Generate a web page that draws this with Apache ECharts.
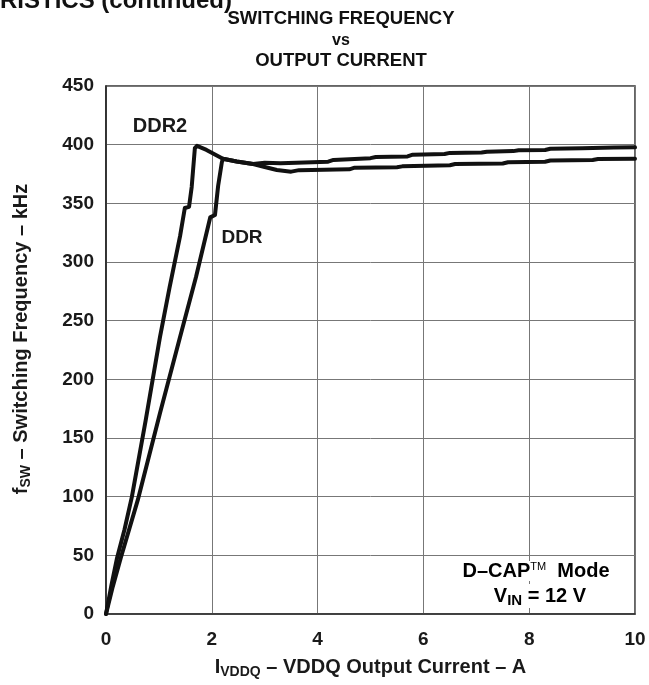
<!DOCTYPE html>
<html>
<head>
<meta charset="utf-8">
<script src="https://cdn.jsdelivr.net/npm/echarts@6/dist/echarts.min.js"></script>
<style>html,body{margin:0;padding:0;background:#fff;}#c{width:649px;height:685px;}</style>
</head>
<body>
<div id="c"></div>
<script>
// ---- data ----
const xTicks = [0, 2, 4, 6, 8, 10];
const yTicks = [0, 50, 100, 150, 200, 250, 300, 350, 400, 450];
const ddr2Current = [0, 0.1, 0.21, 0.35, 0.49, 0.75, 1.02, 1.2, 1.4, 1.49, 1.57, 1.62, 1.68, 1.72, 1.9, 2.21, 2.47, 2.78, 3.0, 3.23, 3.5, 3.65, 4.6, 4.7, 5.5, 5.6, 6.5, 6.6, 7.5, 7.6, 8.3, 8.4, 9.2, 9.3, 10];
const ddr2Freq    = [0, 24, 48, 72, 100, 165, 236, 278, 322, 346, 347, 364, 397, 399, 395.5, 388, 385.6, 383.5, 381, 378.4, 377, 378.3, 379, 380.4, 380.8, 381.5, 382.5, 383.5, 384, 385, 385.5, 386.5, 387, 387.7, 388];
const ddrCurrent  = [0, 0.12, 0.28, 0.6, 1.02, 1.4, 1.7, 1.97, 2.06, 2.12, 2.19, 2.21, 2.47, 2.78, 3.0, 3.3, 4.2, 4.3, 5.0, 5.1, 5.7, 5.8, 6.4, 6.5, 7.1, 7.2, 7.7, 7.8, 8.3, 8.4, 9.0, 9.6, 10];
const ddrFreq     = [0, 22, 48, 97, 171, 236, 287, 338, 340, 365, 385, 388, 385.6, 383.5, 384.5, 384.1, 385.5, 387, 388.5, 389.5, 390, 391.5, 392, 393, 393.3, 394, 394.5, 395.2, 395.5, 396.5, 397, 397.5, 397.7];
const seriesNames = ['DDR2', 'DDR'];
const titleLines = ['SWITCHING FREQUENCY', 'vs', 'OUTPUT CURRENT'];

const pair = (xs, ys) => xs.map((x, i) => [x, ys[i]]);
const FONT = '"Liberation Sans", Arial, sans-serif';
const INK = '#1a1a1a';
const chart = echarts.init(document.getElementById('c'), null, {renderer: 'canvas'});

const nameRich = {
  i: {fontSize: 20, fontWeight: 'bold', color: INK, fontFamily: FONT},
  s: {fontSize: 14, fontWeight: 'bold', color: INK, fontFamily: FONT, padding: [9, 0, 0, 0]},
  n: {fontSize: 20, fontWeight: 'bold', color: INK, fontFamily: FONT}
};

const option = {
  backgroundColor: '#fff',
  animation: false,
  textStyle: {fontFamily: FONT},
  grid: {left: 106, top: 86, right: 14, bottom: 71, show: true, borderColor: '#333', borderWidth: 1.5},
  xAxis: {
    type: 'value', min: xTicks[0], max: xTicks[xTicks.length - 1], interval: xTicks[1] - xTicks[0],
    axisLine: {show: true, lineStyle: {color: '#333', width: 1.5}},
    axisTick: {show: false},
    splitLine: {show: true, lineStyle: {color: '#777', width: 1}},
    axisLabel: {margin: 16, fontSize: 19, fontWeight: 'bold', color: INK, fontFamily: FONT},
    name: '{i|I}{s|VDDQ}{n| – VDDQ Output Current – A}',
    nameLocation: 'middle', nameGap: 42,
    nameTextStyle: {rich: nameRich}
  },
  yAxis: {
    type: 'value', min: yTicks[0], max: yTicks[yTicks.length - 1], interval: yTicks[1] - yTicks[0],
    axisLine: {show: true, lineStyle: {color: '#222', width: 1.5}},
    axisTick: {show: false},
    splitLine: {show: true, lineStyle: {color: '#777', width: 1}},
    axisLabel: {margin: 12, fontSize: 19, fontWeight: 'bold', color: INK, fontFamily: FONT},
    name: '{i|f}{s|SW}{n| – Switching Frequency – kHz}',
    nameLocation: 'middle', nameGap: 73, nameRotate: 90,
    nameTextStyle: {rich: nameRich, padding: [0, 0, 0, 22]}
  },
  series: [
    {name: seriesNames[0], type: 'line', data: pair(ddr2Current, ddr2Freq), showSymbol: false, smooth: false,
     lineStyle: {color: '#111', width: 4, join: 'round', cap: 'round'}, z: 3},
    {name: seriesNames[1], type: 'line', data: pair(ddrCurrent, ddrFreq), showSymbol: false, smooth: false,
     lineStyle: {color: '#111', width: 4, join: 'round', cap: 'round'}, z: 3}
  ],
  graphic: [
    {type: 'text', left: 0, top: -11, style: {text: 'RISTICS (continued)', fontSize: 24, fontWeight: 'bold', fill: '#111', fontFamily: FONT}},
    {type: 'text', x: 341, y: 19, style: {text: titleLines[0], fontSize: 18.5, fontWeight: 'bold', fill: '#111', fontFamily: FONT, align: 'center', verticalAlign: 'middle'}},
    {type: 'text', x: 341, y: 41, style: {text: titleLines[1], fontSize: 16, fontWeight: 'bold', fill: '#111', fontFamily: FONT, align: 'center', verticalAlign: 'middle'}},
    {type: 'text', x: 341, y: 61, style: {text: titleLines[2], fontSize: 18.5, fontWeight: 'bold', fill: '#111', fontFamily: FONT, align: 'center', verticalAlign: 'middle'}},
    {type: 'text', x: 160, y: 126, style: {text: seriesNames[0], fontSize: 20, fontWeight: 'bold', fill: INK, fontFamily: FONT, align: 'center', verticalAlign: 'middle'}, z: 10},
    {type: 'text', x: 242, y: 238, style: {text: seriesNames[1], fontSize: 19, fontWeight: 'bold', fill: INK, fontFamily: FONT, align: 'center', verticalAlign: 'middle'}, z: 10},
    {type: 'text', x: 536, y: 571, z: 10, style: {
      text: '{a|D–CAP}{t|TM}{a|  Mode}', align: 'center', verticalAlign: 'middle', backgroundColor: '#fff',
      rich: {a: {fontSize: 20, fontWeight: 'bold', color: INK, fontFamily: FONT},
             t: {fontSize: 11, color: INK, fontFamily: FONT, padding: [0, 0, 9, 0]}}}},
    {type: 'text', x: 540, y: 596, z: 10, style: {
      text: '{a|V}{s|IN}{a| = 12 V}', align: 'center', verticalAlign: 'middle', backgroundColor: '#fff',
      rich: {a: {fontSize: 20, fontWeight: 'bold', color: INK, fontFamily: FONT},
             s: {fontSize: 15, fontWeight: 'bold', color: INK, fontFamily: FONT, padding: [9, 0, 0, 0]}}}}
  ]
};
chart.setOption(option);
</script>
</body>
</html>
